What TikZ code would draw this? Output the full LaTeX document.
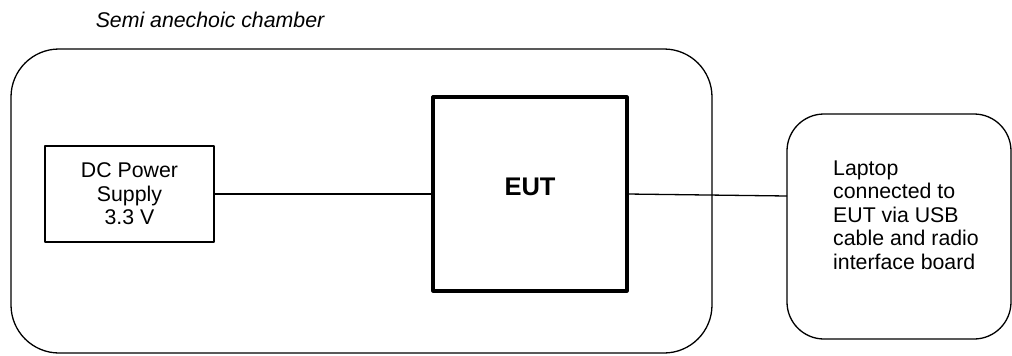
\documentclass[tikz,border=0pt]{standalone}
\usepackage{fontspec}
\setmainfont{Liberation Sans}
\begin{document}
\begin{tikzpicture}[x=1pt,y=-1pt,line join=round,
  box/.style={draw,line width=1.3pt,inner sep=0pt,outer sep=0pt},
  txt/.style={font=\fontsize{21.3}{23.5}\selectfont,inner sep=0pt},
  wire/.style={draw,line width=1.3pt}]
\useasboundingbox (0,0) rectangle (1012,356);
\node[txt,font=\itshape\fontsize{21.3}{24}\selectfont] (title) at (210,20) {Semi anechoic chamber};
\node[box,rounded corners=48pt,minimum width=701pt,minimum height=304pt] (chamber) at (361.5,201) {};
\node[box,minimum width=169pt,minimum height=96pt,txt,align=center] (dc) at (129.5,194) {DC Power\\Supply\\3.3 V};
\node[box,line width=3.2pt,minimum width=194pt,minimum height=194pt] (eut) at (530,194) {};
\node[txt,font=\bfseries\fontsize{25.5}{30}\selectfont] (euttext) at (530,187) {EUT};
\node[box,rounded corners=37pt,minimum width=224pt,minimum height=225pt] (laptop) at (899,226.5) {};
\node[txt,align=left,anchor=west] (laptoptext) at (833,215) {Laptop\\connected to\\EUT via USB\\cable and radio\\interface board};
\coordinate (lapin) at ([yshift=30.5pt]laptop.west);
\draw[wire] (dc.east) -- (eut.west);
\draw[wire] (eut.east) -- (lapin);
\end{tikzpicture}
\end{document}
